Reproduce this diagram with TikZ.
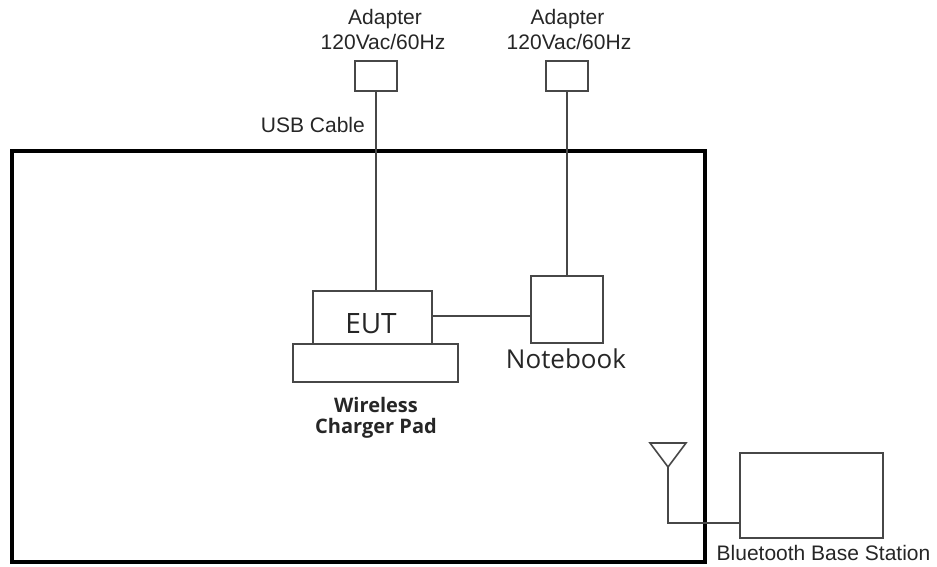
\documentclass[tikz,border=0pt]{standalone}
\usepackage{fontspec}
\setmainfont{Liberation Sans}
\newfontfamily\osans{Open Sans}
\begin{document}
\begin{tikzpicture}[x=1pt,y=-1pt,
  wire/.style={line width=1.6pt, draw=black!72},
  box/.style={wire, rectangle, inner sep=0pt, outer sep=0pt},
  lbl/.style={font=\fontsize{21}{24}\selectfont, text=black!85, inner sep=0pt, anchor=base},
  hlbl/.style={text=black!85, inner sep=0pt, anchor=base}]
\useasboundingbox (0,0) rectangle (937,567);
% room frame
\node[draw=black, line width=4pt, rectangle, minimum width=693pt, minimum height=411pt, inner sep=0pt] (frame) at (358.5,356.5) {};
% adapters
\node[box, minimum width=42pt, minimum height=30pt] (ad1) at (376,76) {};
\node[box, minimum width=42pt, minimum height=30pt] (ad2) at (567,76) {};
\node[lbl] (ad1t) at (385,25) {Adapter};
\node[lbl] (ad1v) at (383,50) {120Vac/60Hz};
\node[lbl] (ad2t) at (567.5,25) {Adapter};
\node[lbl] (ad2v) at (569,50) {120Vac/60Hz};
\node[lbl, anchor=base east] (usb) at (365,132) {USB Cable};
% EUT and pad
\node[box, minimum width=119pt, minimum height=53pt] (eut) at (372.5,317.5) {};
\node[box, minimum width=165pt, minimum height=38pt] (pad) at (375.5,363) {};
\node[hlbl, font=\osans\fontsize{28}{32}\selectfont] (eutt) at (371,333) {EUT};
\node[hlbl, font=\osans\bfseries\fontsize{20}{24}\selectfont] (padt1) at (376,412) {Wireless};
\node[hlbl, font=\osans\bfseries\fontsize{20}{24}\selectfont] (padt2) at (376,433) {Charger Pad};
% notebook
\node[box, minimum width=72pt, minimum height=67pt] (nb) at (567,309.5) {};
\node[hlbl, font=\osans\fontsize{26}{30}\selectfont] (nbt) at (566,368) {Notebook};
% base station
\node[box, minimum width=143pt, minimum height=85pt] (bs) at (811.5,495.5) {};
\node[lbl] (bst) at (823.5,560) {Bluetooth Base Station};
% antenna
\coordinate (antL) at (650,443);
\coordinate (antR) at (686,443);
\coordinate (antA) at (668,467);
\coordinate (antB) at (668,523);
\draw[wire, line join=miter] (antL) -- (antR) -- (antA) -- cycle;
% connectors
\draw[wire] (ad1.south) -- (ad1.south |- eut.north);
\draw[wire] (ad2.south) -- (nb.north);
\draw[wire] (eut.east |- 0,316) -- (nb.west |- 0,316);
\draw[wire] (antA) -- (antB) -- (antB -| bs.west);
\end{tikzpicture}
\end{document}
